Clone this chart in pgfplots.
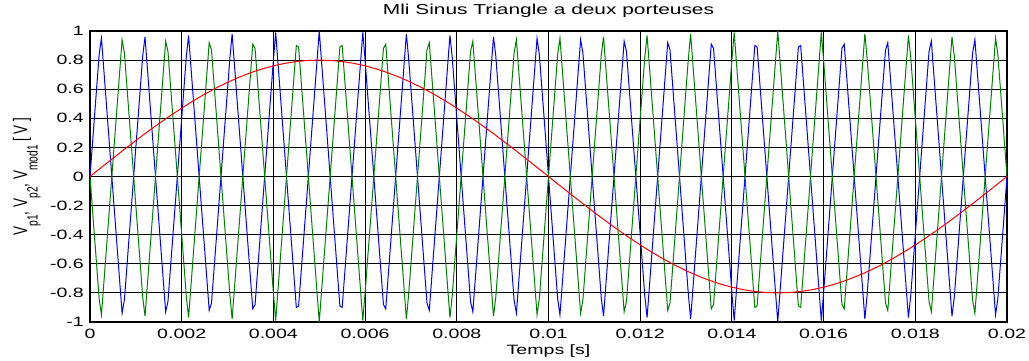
\documentclass[border=0pt]{standalone}
\usepackage{fontspec}
\setmainfont{Liberation Sans}[FakeStretch=1.45]
\newfontfamily\plainfont{Liberation Sans}
\usepackage{pgfplots}
\usepackage{pgfplotstable}
\pgfplotsset{compat=1.18}

\pgfplotstableread{
t b g
0 0 0
0.0002 0.84 -0.84
0.00025 0.95 -0.95
0.0007 -0.94 0.94
0.00075 -0.85 0.85
0.00115 0.83 -0.83
0.0012 0.96 -0.96
0.00165 -0.93 0.93
0.0017 -0.86 0.86
0.0021 0.82 -0.82
0.00215 0.97 -0.97
0.0026 -0.92 0.92
0.00265 -0.87 0.87
0.00305 0.81 -0.81
0.0031 0.98 -0.98
0.00355 -0.91 0.91
0.0036 -0.88 0.88
0.004 0.80 -0.80
0.00405 0.99 -0.99
0.0045 -0.90 0.90
0.00455 -0.89 0.89
0.005 1 -1
0.00545 -0.89 0.89
0.0055 -0.90 0.90
0.00595 0.99 -0.99
0.006 0.80 -0.80
0.0064 -0.88 0.88
0.00645 -0.91 0.91
0.0069 0.98 -0.98
0.00695 0.81 -0.81
0.00735 -0.87 0.87
0.0074 -0.92 0.92
0.00785 0.97 -0.97
0.0079 0.82 -0.82
0.0083 -0.86 0.86
0.00835 -0.93 0.93
0.0088 0.96 -0.96
0.00885 0.83 -0.83
0.00925 -0.85 0.85
0.0093 -0.94 0.94
0.00975 0.95 -0.95
0.0098 0.84 -0.84
0.0102 -0.84 0.84
0.01025 -0.95 0.95
0.0107 0.94 -0.94
0.01075 0.85 -0.85
0.01115 -0.83 0.83
0.0112 -0.96 0.96
0.01165 0.93 -0.93
0.0117 0.86 -0.86
0.0121 -0.82 0.82
0.01215 -0.97 0.97
0.0126 0.92 -0.92
0.01265 0.87 -0.87
0.01305 -0.81 0.81
0.0131 -0.98 0.98
0.01355 0.91 -0.91
0.0136 0.88 -0.88
0.014 -0.80 0.80
0.01405 -0.99 0.99
0.0145 0.90 -0.90
0.01455 0.89 -0.89
0.015 -1 1
0.01545 0.89 -0.89
0.0155 0.90 -0.90
0.01595 -0.99 0.99
0.016 -0.80 0.80
0.0164 0.88 -0.88
0.01645 0.91 -0.91
0.0169 -0.98 0.98
0.01695 -0.81 0.81
0.01735 0.87 -0.87
0.0174 0.92 -0.92
0.01785 -0.97 0.97
0.0179 -0.82 0.82
0.0183 0.86 -0.86
0.01835 0.93 -0.93
0.0188 -0.96 0.96
0.01885 -0.83 0.83
0.01925 0.85 -0.85
0.0193 0.94 -0.94
0.01975 -0.95 0.95
0.0198 -0.84 0.84
0.02 0 0
}\tri

\pgfplotstableread{
t v
0 0
0.00025 0.0628
0.0005 0.1251
0.00075 0.1868
0.001 0.2472
0.00125 0.3061
0.0015 0.3632
0.00175 0.4180
0.002 0.4702
0.00225 0.5196
0.0025 0.5657
0.00275 0.6083
0.003 0.6472
0.00325 0.6821
0.0035 0.7128
0.00375 0.7391
0.004 0.7608
0.00425 0.7779
0.0045 0.7902
0.00475 0.7975
0.005 0.8
0.00525 0.7975
0.0055 0.7902
0.00575 0.7779
0.006 0.7608
0.00625 0.7391
0.0065 0.7128
0.00675 0.6821
0.007 0.6472
0.00725 0.6083
0.0075 0.5657
0.00775 0.5196
0.008 0.4702
0.00825 0.4180
0.0085 0.3632
0.00875 0.3061
0.009 0.2472
0.00925 0.1868
0.0095 0.1251
0.00975 0.0628
0.01 0
0.01025 -0.0628
0.0105 -0.1251
0.01075 -0.1868
0.011 -0.2472
0.01125 -0.3061
0.0115 -0.3632
0.01175 -0.4180
0.012 -0.4702
0.01225 -0.5196
0.0125 -0.5657
0.01275 -0.6083
0.013 -0.6472
0.01325 -0.6821
0.0135 -0.7128
0.01375 -0.7391
0.014 -0.7608
0.01425 -0.7779
0.0145 -0.7902
0.01475 -0.7975
0.015 -0.8
0.01525 -0.7975
0.0155 -0.7902
0.01575 -0.7779
0.016 -0.7608
0.01625 -0.7391
0.0165 -0.7128
0.01675 -0.6821
0.017 -0.6472
0.01725 -0.6083
0.0175 -0.5657
0.01775 -0.5196
0.018 -0.4702
0.01825 -0.4180
0.0185 -0.3632
0.01875 -0.3061
0.019 -0.2472
0.01925 -0.1868
0.0195 -0.1251
0.01975 -0.0628
0.02 0
}\modu

\definecolor{mblue}{RGB}{0,0,255}
\definecolor{mgreen}{RGB}{0,128,0}
\definecolor{mred}{RGB}{255,0,0}

\newcommand{\sub}[1]{\raisebox{-7.4pt}{\fontsize{10.2}{12}\selectfont #1}}

\begin{document}
\fontsize{13.5}{16}\selectfont
\begin{tikzpicture}
\path[use as bounding box] (-90pt,-39pt) rectangle (939pt,322pt);
\begin{axis}[
  at={(0pt,0pt)}, anchor=south west,
  scale only axis, width=917pt, height=291pt,
  xmin=0, xmax=0.02, ymin=-1, ymax=1,
  enlargelimits=false,
  xtick={0,0.002,0.004,0.006,0.008,0.01,0.012,0.014,0.016,0.018,0.02},
  xticklabels={0,0.002,0.004,0.006,0.008,0.01,0.012,0.014,0.016,0.018,0.02},
  ytick={-1,-0.8,-0.6,-0.4,-0.2,0,0.2,0.4,0.6,0.8,1},
  yticklabels={-1,-0.8,-0.6,-0.4,-0.2,0,0.2,0.4,0.6,0.8,1},
  scaled x ticks=false,
  major tick length=0pt,
  grid=major,
  major grid style={black, line width=1pt},
  axis line style={black, line width=1.4pt},
  xticklabel style={anchor=north, inner sep=0pt, yshift=-7pt},
  yticklabel style={anchor=east, inner sep=0pt, xshift=-6pt},
  title={Mli Sinus Triangle a deux porteuses},
  title style={at={(axis description cs:0.5,1.0344)}, anchor=base, inner sep=0pt, font=\fontsize{14.4}{16}\selectfont},
  xlabel={Temps [s]},
  xlabel style={at={(axis description cs:0.5,-0.1124)}, anchor=base, inner sep=0pt},
  ylabel={V\sub{p1}, V\sub{p2}, V\sub{mod1} [ V ]},
  ylabel style={at={(axis description cs:-0.0687,0.5)}, anchor=base, inner sep=0pt, yscale=1.45, font=\plainfont\fontsize{13.5}{16}\selectfont},
]
\addplot[mblue, line width=1pt] table[x=t, y=b] {\tri};
\addplot[mgreen, line width=1pt] table[x=t, y=g] {\tri};
\addplot[mred, line width=1pt] table[x=t, y=v] {\modu};
\end{axis}
\end{tikzpicture}
\end{document}
